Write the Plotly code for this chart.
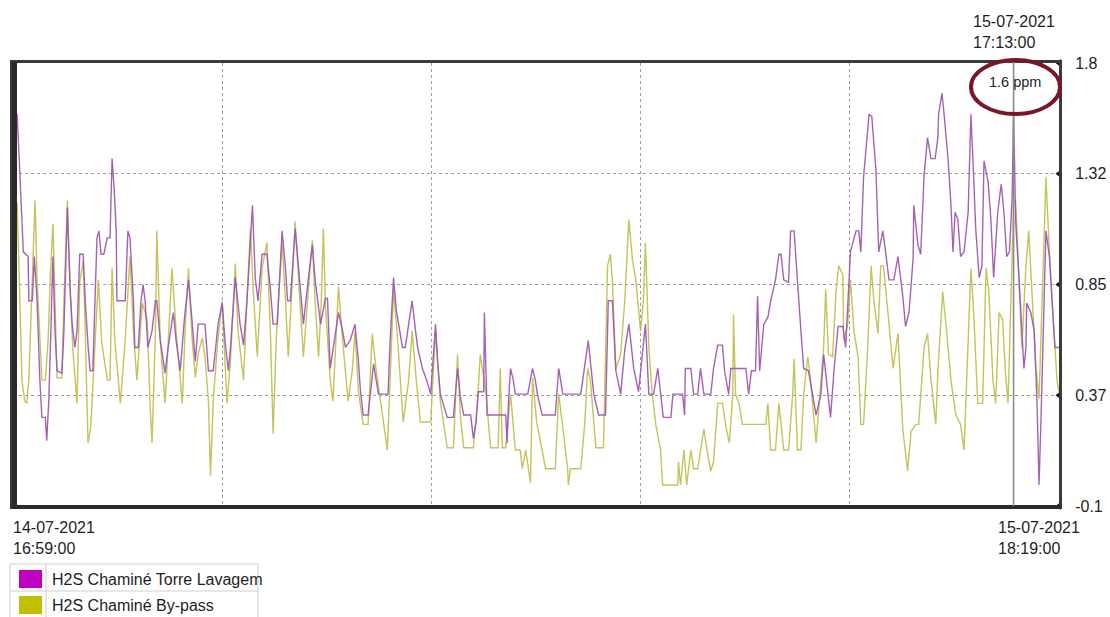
import pandas as pd
import plotly.graph_objects as go

# ---------------------------------------------------------------------------
# Data: H2S readings (ppm), time given as minutes after the window start
# ---------------------------------------------------------------------------
START = pd.Timestamp("2021-07-14 16:59:00")
END = pd.Timestamp("2021-07-15 18:19:00")
CURSOR = pd.Timestamp("2021-07-15 17:13:00")

SERIES_NAMES = ["H2S Chaminé Torre Lavagem", "H2S Chaminé By-pass"]
SWATCH_COLORS = ["#C000C0", "#C0C000"]
LINE_COLORS = ["#9c52ae", "#bebe4a"]

torre_readings = [
    (1, 1.57), (6, 1.58), (9, 1.39), (13, 1.11), (15, 0.99), (22, 0.97), (23, 0.78), (28, 0.78),
    (31, 0.97), (35, 0.78), (39, 0.44), (42, 0.28), (47, 0.28), (49, 0.18), (52, 0.35), (55, 0.65),
    (58, 0.97), (61, 0.65), (64, 0.48), (71, 0.47), (74, 0.65), (79, 1.18), (83, 0.83), (86, 0.68),
    (90, 0.58), (93, 0.65), (97, 0.98), (102, 0.98), (105, 0.78), (109, 0.59), (112, 0.48), (116, 0.48),
    (119, 0.78), (122, 1.05), (125, 1.08), (128, 0.98), (132, 0.98), (137, 1.05), (141, 1.05), (144, 1.39),
    (147, 1.26), (150, 1.08), (151, 0.78), (163, 0.78), (167, 1.08), (170, 1.05), (175, 0.78), (177, 0.58),
    (182, 0.58), (186, 0.78), (189, 0.85), (192, 0.78), (196, 0.58), (202, 0.65), (207, 0.78), (209, 0.78),
    (214, 0.61), (221, 0.47), (225, 0.57), (233, 0.73), (237, 0.61), (243, 0.48), (249, 0.70), (255, 0.87),
    (260, 0.70), (265, 0.52), (269, 0.68), (279, 0.68), (284, 0.48), (291, 0.48), (298, 0.68), (304, 0.77),
    (308, 0.61), (313, 0.48), (316, 0.58), (323, 0.88), (330, 0.68), (335, 0.59), (340, 0.78), (348, 1.19),
    (352, 0.88), (356, 0.78), (362, 0.98), (369, 0.98), (374, 0.83), (378, 0.68), (384, 0.68), (391, 1.08),
    (396, 0.92), (399, 0.78), (403, 0.78), (410, 1.09), (415, 0.92), (422, 0.68), (429, 0.87), (435, 1.02),
    (439, 0.87), (447, 0.68), (454, 0.79), (457, 0.79), (461, 0.49), (465, 0.57), (473, 0.73), (479, 0.65),
    (483, 0.58), (490, 0.61), (497, 0.68), (502, 0.52), (505, 0.39), (509, 0.29), (516, 0.29), (524, 0.51),
    (528, 0.44), (531, 0.38), (545, 0.38), (548, 0.61), (553, 0.88), (557, 0.74), (566, 0.58), (570, 0.58),
    (576, 0.70), (580, 0.78), (585, 0.65), (588, 0.58), (595, 0.49), (601, 0.44), (607, 0.38), (614, 0.68),
    (617, 0.52), (621, 0.38), (631, 0.28), (640, 0.28), (646, 0.49), (650, 0.37), (655, 0.29), (665, 0.29),
    (669, 0.19), (673, 0.26), (676, 0.39), (684, 0.39), (685, 0.73), (688, 0.39), (689, 0.29), (716, 0.29),
    (718, 0.17), (720, 0.35), (723, 0.49), (727, 0.44), (730, 0.38), (748, 0.38), (755, 0.49), (759, 0.44),
    (762, 0.38), (769, 0.29), (788, 0.29), (793, 0.49), (799, 0.38), (825, 0.38), (832, 0.52), (836, 0.61),
    (839, 0.52), (844, 0.38), (851, 0.29), (861, 0.29), (864, 0.65), (865, 0.78), (871, 0.78), (876, 0.48),
    (883, 0.38), (889, 0.57), (895, 0.68), (899, 0.57), (902, 0.49), (909, 0.39), (915, 0.57), (919, 0.68),
    (924, 0.38), (931, 0.38), (937, 0.49), (941, 0.38), (945, 0.28), (956, 0.28), (959, 0.38), (973, 0.38),
    (976, 0.29), (977, 0.49), (985, 0.49), (989, 0.38), (995, 0.38), (999, 0.49), (1004, 0.38), (1014, 0.38),
    (1018, 0.49), (1024, 0.59), (1031, 0.59), (1034, 0.48), (1040, 0.38), (1043, 0.49), (1065, 0.49), (1069, 0.38),
    (1073, 0.48), (1079, 0.48), (1082, 0.80), (1085, 0.48), (1091, 0.68), (1097, 0.71), (1101, 0.78), (1108, 0.87),
    (1113, 0.98), (1116, 0.98), (1120, 0.87), (1127, 0.86), (1130, 1.08), (1135, 1.08), (1140, 0.84), (1145, 0.65),
    (1149, 0.49), (1156, 0.48), (1167, 0.29), (1174, 0.38), (1178, 0.55), (1184, 0.38), (1188, 0.28), (1193, 0.48),
    (1199, 0.67), (1206, 0.67), (1210, 0.58), (1217, 0.99), (1225, 1.08), (1229, 1.08), (1232, 0.99), (1236, 1.31),
    (1242, 1.53), (1244, 1.58), (1248, 1.57), (1254, 1.34), (1258, 0.99), (1264, 1.08), (1268, 0.99), (1273, 0.87),
    (1280, 0.87), (1286, 0.97), (1293, 0.80), (1297, 0.67), (1302, 0.73), (1308, 0.96), (1309, 1.19), (1315, 1.02),
    (1319, 0.98), (1324, 1.32), (1329, 1.48), (1334, 1.39), (1340, 1.39), (1344, 1.48), (1345, 1.58), (1350, 1.67),
    (1353, 1.58), (1359, 1.38), (1363, 1.19), (1366, 0.99), (1369, 1.16), (1373, 1.13), (1377, 0.97), (1382, 0.99),
    (1388, 1.16), (1392, 1.58), (1396, 1.31), (1399, 1.09), (1404, 0.88), (1408, 0.93), (1411, 1.38), (1417, 1.29),
    (1421, 1.13), (1425, 0.88), (1431, 1.16), (1436, 1.28), (1440, 1.16), (1444, 0.97), (1448, 0.99), (1452, 1.23),
    (1454, 1.60), (1457, 1.12), (1462, 0.87), (1466, 0.62), (1469, 0.49), (1472, 0.58), (1473, 0.77), (1479, 0.73),
    (1484, 0.65), (1488, 0.35), (1491, -0.01), (1494, 0.29), (1498, 0.82), (1501, 1.08), (1506, 0.97), (1511, 0.73),
    (1514, 0.58), (1520, 0.58),
]

bypass_readings = [
    (1, 1.18), (6, 1.20), (10, 0.78), (13, 0.44), (17, 0.35), (20, 0.34), (23, 0.44), (28, 0.87),
    (32, 1.21), (35, 0.87), (39, 0.61), (42, 0.44), (47, 0.44), (51, 0.61), (54, 0.87), (58, 1.11),
    (61, 0.78), (64, 0.45), (71, 0.45), (74, 0.78), (79, 1.21), (83, 0.83), (87, 0.57), (93, 0.34),
    (97, 0.86), (102, 0.95), (105, 0.65), (109, 0.17), (113, 0.24), (118, 0.52), (124, 0.87), (129, 0.60),
    (137, 0.44), (141, 0.44), (144, 0.92), (148, 0.61), (156, 0.34), (163, 0.61), (170, 0.97), (175, 0.65),
    (180, 0.44), (188, 0.77), (195, 0.70), (199, 0.35), (202, 0.17), (207, 0.65), (209, 1.08), (214, 0.61),
    (221, 0.34), (225, 0.57), (231, 0.92), (237, 0.65), (246, 0.34), (250, 0.65), (255, 0.92), (260, 0.63),
    (265, 0.45), (269, 0.55), (275, 0.62), (279, 0.54), (284, 0.35), (287, 0.03), (291, 0.35), (297, 0.59),
    (304, 0.78), (308, 0.52), (311, 0.34), (316, 0.52), (323, 0.94), (327, 0.65), (335, 0.44), (340, 0.78),
    (345, 1.09), (349, 0.83), (355, 0.54), (362, 0.92), (369, 1.03), (374, 0.65), (378, 0.21), (383, 0.65),
    (391, 1.03), (396, 0.78), (400, 0.54), (406, 0.87), (410, 1.12), (415, 0.87), (422, 0.54), (428, 0.78),
    (435, 1.04), (439, 0.78), (444, 0.54), (448, 0.78), (451, 1.09), (454, 0.76), (461, 0.44), (465, 0.35),
    (470, 0.65), (473, 0.84), (479, 0.61), (487, 0.35), (493, 0.48), (497, 0.65), (502, 0.39), (509, 0.25),
    (516, 0.25), (522, 0.64), (527, 0.50), (534, 0.35), (544, 0.14), (548, 0.44), (553, 0.83), (559, 0.61),
    (567, 0.26), (575, 0.44), (580, 0.65), (586, 0.44), (592, 0.26), (607, 0.26), (614, 0.65), (621, 0.35),
    (631, 0.15), (640, 0.15), (646, 0.55), (650, 0.29), (655, 0.15), (669, 0.15), (675, 0.35), (679, 0.55),
    (687, 0.39), (694, 0.15), (705, 0.15), (708, 0.49), (711, 0.15), (716, 0.15), (723, 0.38), (730, 0.14),
    (737, 0.14), (740, 0.06), (745, 0.14), (752, 0.00), (755, 0.45), (761, 0.26), (767, 0.17), (774, 0.06),
    (788, 0.06), (793, 0.38), (800, 0.21), (806, 0.06), (807, -0.01), (810, 0.06), (825, 0.06), (831, 0.26),
    (835, 0.49), (839, 0.44), (847, 0.15), (858, 0.15), (864, 0.93), (868, 0.98), (871, 0.87), (876, 0.49),
    (883, 0.55), (889, 0.78), (895, 1.13), (900, 0.96), (905, 0.87), (912, 0.65), (916, 0.78), (919, 1.03),
    (924, 0.58), (929, 0.38), (934, 0.25), (941, 0.14), (944, -0.01), (966, -0.01), (967, 0.09), (970, -0.01),
    (975, 0.14), (979, -0.01), (985, 0.14), (989, 0.06), (995, 0.06), (999, 0.14), (1004, 0.23), (1009, 0.13),
    (1014, 0.05), (1018, 0.09), (1024, 0.34), (1031, 0.34), (1036, 0.24), (1041, 0.17), (1046, 0.38), (1047, 0.72),
    (1050, 0.38), (1055, 0.34), (1060, 0.25), (1094, 0.25), (1097, 0.34), (1101, 0.14), (1108, 0.14), (1113, 0.34),
    (1120, 0.14), (1127, 0.14), (1133, 0.38), (1135, 0.53), (1137, 0.35), (1140, 0.14), (1145, 0.14), (1149, 0.38),
    (1155, 0.54), (1159, 0.44), (1167, 0.17), (1171, 0.31), (1178, 0.58), (1181, 0.83), (1185, 0.55), (1191, 0.54),
    (1196, 0.82), (1200, 0.93), (1206, 0.89), (1207, 0.61), (1213, 0.68), (1217, 0.87), (1222, 0.65), (1228, 0.54),
    (1232, 0.25), (1236, 0.25), (1242, 0.58), (1247, 0.93), (1251, 0.78), (1257, 0.64), (1261, 0.93), (1265, 0.93),
    (1271, 0.74), (1276, 0.58), (1279, 0.49), (1286, 0.64), (1293, 0.23), (1300, 0.05), (1305, 0.22), (1312, 0.25),
    (1316, 0.25), (1324, 0.58), (1329, 0.64), (1334, 0.44), (1341, 0.25), (1344, 0.48), (1351, 0.82), (1357, 0.64),
    (1363, 0.44), (1370, 0.29), (1377, 0.25), (1382, 0.14), (1388, 0.58), (1392, 0.92), (1396, 0.73), (1402, 0.34),
    (1409, 0.34), (1414, 0.92), (1418, 0.82), (1424, 0.44), (1428, 0.34), (1433, 0.73), (1438, 0.70), (1442, 0.48),
    (1446, 0.34), (1450, 0.73), (1454, 1.20), (1457, 1.21), (1462, 0.87), (1466, 0.58), (1472, 0.93), (1476, 1.08),
    (1481, 0.80), (1486, 0.51), (1491, 0.36), (1495, 0.78), (1501, 1.31), (1506, 0.99), (1511, 0.73), (1517, 0.44),
    (1520, 0.39),
]

Y_TICKS = [-0.1, 0.375, 0.85, 1.325, 1.8]
Y_TICK_TEXT = ["-0.1", "0.37", "0.85", "1.32", "1.8"]
X_DIVISIONS = 5
UNIT = "ppm"

# ---------------------------------------------------------------------------
# Layout geometry (pixels)
# ---------------------------------------------------------------------------
FIG_W, FIG_H = 1110, 617
PLOT_L, PLOT_R, PLOT_T, PLOT_B = 13, 1059, 63, 506
FONT = "Liberation Sans, Arial, sans-serif"
TEXT_COLOR = "#1e1e1e"


def paper_x(px):
    return (px - PLOT_L) / (PLOT_R - PLOT_L)


def paper_y(py):
    return (PLOT_B - py) / (PLOT_B - PLOT_T)


def to_time(minutes):
    return [START + pd.Timedelta(minutes=m) for m in minutes]


fig = go.Figure()

for readings, name, color in [
    (bypass_readings, SERIES_NAMES[1], LINE_COLORS[1]),
    (torre_readings, SERIES_NAMES[0], LINE_COLORS[0]),
]:
    mins, vals = zip(*readings)
    fig.add_trace(go.Scatter(
        x=to_time(mins), y=list(vals), mode="lines", name=name,
        line=dict(color=color, width=1.4), opacity=0.9,
        showlegend=False, hoverinfo="skip",
    ))

# small wedge markers on the right border at each value tick
fig.add_trace(go.Scatter(
    x=[END] * len(Y_TICKS), y=Y_TICKS, mode="markers",
    marker=dict(symbol="triangle-left", size=7, color="#111111"),
    cliponaxis=False, showlegend=False, hoverinfo="skip",
))

span = END - START
x_grid = [START + span * k / X_DIVISIONS for k in range(X_DIVISIONS + 1)]

grid_style = dict(showgrid=True, gridcolor="#9c9c9c", griddash="dot", gridwidth=1)
frame_style = dict(showline=True, mirror=True, linecolor="#3a3a3a", linewidth=3, automargin=False)

fig.update_layout(
    width=FIG_W, height=FIG_H,
    margin=dict(l=PLOT_L, r=FIG_W - PLOT_R, t=PLOT_T, b=FIG_H - PLOT_B, pad=0, autoexpand=False),
    paper_bgcolor="white", plot_bgcolor="white",
    font=dict(family=FONT, size=16, color=TEXT_COLOR),
    xaxis=dict(type="date", range=[START, END], tickvals=x_grid, showticklabels=False,
               ticks="", zeroline=False, **grid_style, **frame_style),
    yaxis=dict(range=[Y_TICKS[0], Y_TICKS[-1]], tickvals=Y_TICKS, ticktext=Y_TICK_TEXT, side="right",
               ticks="", ticklabelstandoff=10, zeroline=False,
               tickfont=dict(family=FONT, size=16, color=TEXT_COLOR),
               **grid_style, **frame_style),
)

shapes = []
# heavier left and bottom edges of the frame
shapes.append(dict(type="line", xref="paper", yref="paper", x0=paper_x(14.5), x1=paper_x(14.5),
                   y0=paper_y(509), y1=paper_y(62), line=dict(color="#2b2b2b", width=5), layer="above"))
shapes.append(dict(type="line", xref="paper", yref="paper", x0=paper_x(13), x1=paper_x(1060),
                   y0=paper_y(507), y1=paper_y(507), line=dict(color="#2b2b2b", width=4), layer="above"))

# cursor
shapes.append(dict(type="line", xref="x", yref="paper", x0=CURSOR, x1=CURSOR,
                   y0=0, y1=paper_y(58), line=dict(color="#8c8c8c", width=1.6), layer="above"))

# highlight ellipse around the cursor reading
shapes.append(dict(type="circle", xref="paper", yref="paper",
                   x0=paper_x(971), x1=paper_x(1060), y0=paper_y(114), y1=paper_y(60),
                   line=dict(color="#7a1626", width=4), layer="above"))

# legend table
TABLE_L, TABLE_R, TABLE_T, TABLE_MID, TABLE_B, TABLE_DIV = 10, 258, 564, 591, 619, 46
border = dict(color="#cfcfcf", width=1)
shapes.append(dict(type="rect", xref="paper", yref="paper", x0=paper_x(TABLE_L), x1=paper_x(TABLE_R),
                   y0=paper_y(TABLE_B), y1=paper_y(TABLE_T), line=border))
shapes.append(dict(type="line", xref="paper", yref="paper", x0=paper_x(TABLE_L), x1=paper_x(TABLE_R),
                   y0=paper_y(TABLE_MID), y1=paper_y(TABLE_MID), line=border))
shapes.append(dict(type="line", xref="paper", yref="paper", x0=paper_x(TABLE_DIV), x1=paper_x(TABLE_DIV),
                   y0=paper_y(TABLE_B), y1=paper_y(TABLE_T), line=border))

annotations = []
row_centers = [579, 605]
for name, swatch, cy in zip(SERIES_NAMES, SWATCH_COLORS, row_centers):
    shapes.append(dict(type="rect", xref="paper", yref="paper", x0=paper_x(19), x1=paper_x(42),
                       y0=paper_y(cy + 9), y1=paper_y(cy - 9), fillcolor=swatch, line=dict(width=0)))
    annotations.append(dict(xref="paper", yref="paper", x=paper_x(50), y=paper_y(cy), text=name,
                            showarrow=False, xanchor="left", yanchor="middle",
                            font=dict(family=FONT, size=16, color=TEXT_COLOR)))

fmt = lambda t: t.strftime("%d-%m-%Y") + "<br>" + t.strftime("%H:%M:%S")

annotations.append(dict(xref="paper", yref="paper", x=paper_x(11), y=paper_y(538), text=fmt(START),
                        showarrow=False, xanchor="left", yanchor="middle", align="left"))
annotations.append(dict(xref="paper", yref="paper", x=paper_x(996), y=paper_y(538), text=fmt(END),
                        showarrow=False, xanchor="left", yanchor="middle", align="left"))
annotations.append(dict(xref="x", yref="paper", x=CURSOR, xshift=-43, y=paper_y(32), text=fmt(CURSOR),
                        showarrow=False, xanchor="left", yanchor="middle", align="left"))

cursor_minute = int((CURSOR - START) / pd.Timedelta(minutes=1))
cursor_value = dict(torre_readings)[cursor_minute]
annotations.append(dict(xref="x", yref="paper", x=CURSOR, xshift=1, y=paper_y(82),
                        text=f"{cursor_value:.1f} {UNIT}", showarrow=False,
                        xanchor="center", yanchor="middle",
                        font=dict(family=FONT, size=14.5, color=TEXT_COLOR)))

fig.update_layout(shapes=shapes, annotations=annotations)

fig.write_html("out.html")
